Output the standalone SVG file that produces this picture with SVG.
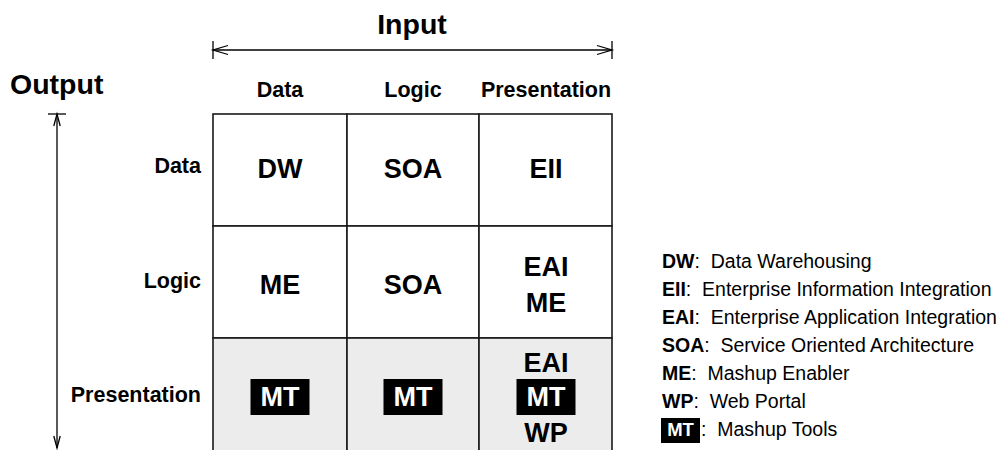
<svg xmlns="http://www.w3.org/2000/svg" width="1003" height="450" viewBox="0 0 1003 450">
  <style>
    text { font-family: "Liberation Sans", Arial, Helvetica, sans-serif; fill: #000; }
    .title { font-size: 28.5px; font-weight: bold; }
    .hdr { font-size: 21.5px; font-weight: bold; }
    .row { font-size: 21.5px; font-weight: bold; text-anchor: end; }
    .cell { font-size: 27px; font-weight: bold; text-anchor: middle; }
    .mt { fill: #fff; }
    .box { fill: #000; }
    .grid { stroke: #1a1a1a; stroke-width: 1.6; }
    .white { fill: #fff; }
    .gray { fill: #ececec; }
    .ax { stroke: #000; stroke-width: 1.3; fill: none; }
    .leg { font-size: 19.5px; }
    .b { font-weight: bold; }
  </style>
  <defs>
    <marker id="chevH" markerUnits="userSpaceOnUse" viewBox="-17 -7 19 14" markerWidth="19" markerHeight="14" refX="0" refY="0" orient="auto-start-reverse" overflow="visible">
      <path d="M-15,-4.5 L0,0 L-15,4.5" fill="none" stroke="#000" stroke-width="1.3"/>
    </marker>
    <marker id="chevV" markerUnits="userSpaceOnUse" viewBox="-14 -5 16 10" markerWidth="16" markerHeight="10" refX="0" refY="0" orient="auto-start-reverse" overflow="visible">
      <path d="M-12,-3.2 L0,0 L-12,3.2" fill="none" stroke="#000" stroke-width="1.3"/>
    </marker>
  </defs>

  <g id="connectors">
    <line class="ax" x1="213" y1="50" x2="612" y2="50" marker-start="url(#chevH)" marker-end="url(#chevH)"/>
    <line class="ax" x1="213" y1="41" x2="213" y2="59"/>
    <line class="ax" x1="612" y1="41" x2="612" y2="59"/>
    <line class="ax" x1="57" y1="114" x2="57" y2="448" marker-start="url(#chevV)" marker-end="url(#chevV)"/>
    <line class="ax" x1="48" y1="114" x2="66" y2="114"/>
  </g>

  <g id="axis-input"><text class="title" x="412" y="34" text-anchor="middle">Input</text></g>
  <g id="axis-output"><text class="title" x="10" y="94">Output</text></g>

  <g id="col-headers">
    <text class="hdr" x="280" y="97" text-anchor="middle">Data</text>
    <text class="hdr" x="413" y="97" text-anchor="middle">Logic</text>
    <text class="hdr" x="546" y="97" text-anchor="middle">Presentation</text>
  </g>

  <g id="row-headers">
    <text class="row" x="201" y="173">Data</text>
    <text class="row" x="201" y="288">Logic</text>
    <text class="row" x="201" y="402">Presentation</text>
  </g>

  <g id="cell-data-data"><rect class="white grid" x="213" y="114" width="134" height="112"/><text class="cell" x="280" y="178">DW</text></g>
  <g id="cell-data-logic"><rect class="white grid" x="347" y="114" width="132" height="112"/><text class="cell" x="413" y="178">SOA</text></g>
  <g id="cell-data-presentation"><rect class="white grid" x="479" y="114" width="133" height="112"/><text class="cell" x="546" y="178">EII</text></g>

  <g id="cell-logic-data"><rect class="white grid" x="213" y="226" width="134" height="112"/><text class="cell" x="280" y="294">ME</text></g>
  <g id="cell-logic-logic"><rect class="white grid" x="347" y="226" width="132" height="112"/><text class="cell" x="413" y="294">SOA</text></g>
  <g id="cell-logic-presentation"><rect class="white grid" x="479" y="226" width="133" height="112"/><text class="cell" x="546" y="276">EAI</text><text class="cell" x="546" y="312">ME</text></g>

  <g id="cell-pres-data"><rect class="gray grid" x="213" y="338" width="134" height="114"/><rect class="box" x="250.5" y="379" width="59" height="36"/><text class="cell mt" x="280" y="406">MT</text></g>
  <g id="cell-pres-logic"><rect class="gray grid" x="347" y="338" width="132" height="114"/><rect class="box" x="383.5" y="379" width="59" height="36"/><text class="cell mt" x="413" y="406">MT</text></g>
  <g id="cell-pres-presentation"><rect class="gray grid" x="479" y="338" width="133" height="114"/><text class="cell" x="546" y="372">EAI</text><rect class="box" x="516.5" y="379" width="59" height="36"/><text class="cell mt" x="546" y="406">MT</text><text class="cell" x="546" y="442">WP</text></g>

  <g id="legend">
    <text class="leg" x="662" y="267.5" xml:space="preserve"><tspan class="b">DW</tspan>:  Data Warehousing</text>
    <text class="leg" x="662" y="295.5" xml:space="preserve"><tspan class="b">EII</tspan>:  Enterprise Information Integration</text>
    <text class="leg" x="662" y="323.5" xml:space="preserve"><tspan class="b">EAI</tspan>:  Enterprise Application Integration</text>
    <text class="leg" x="662" y="351.5" xml:space="preserve"><tspan class="b">SOA</tspan>:  Service Oriented Architecture</text>
    <text class="leg" x="662" y="379.5" xml:space="preserve"><tspan class="b">ME</tspan>:  Mashup Enabler</text>
    <text class="leg" x="662" y="407.5" xml:space="preserve"><tspan class="b">WP</tspan>:  Web Portal</text>
    <rect class="box" x="661" y="418" width="39" height="25"/>
    <text class="b mt" x="680.5" y="436" text-anchor="middle" font-size="18.5">MT</text>
    <text class="leg" x="701" y="435.5" xml:space="preserve">:  Mashup Tools</text>
  </g>
</svg>
